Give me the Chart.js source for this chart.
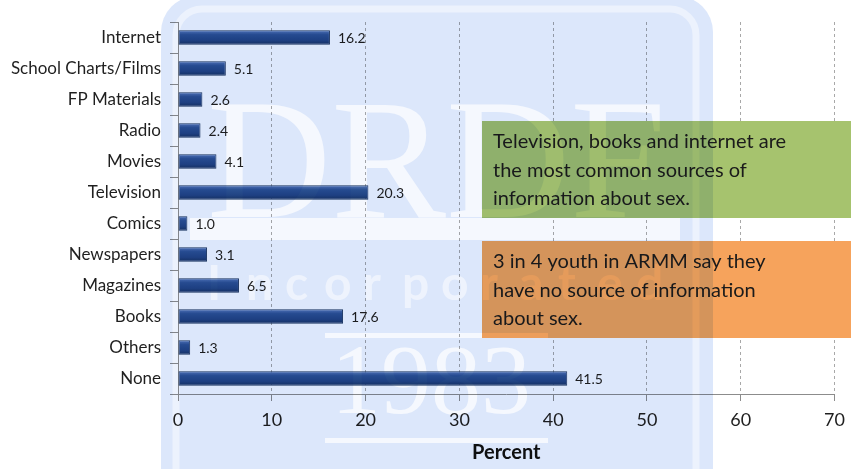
<!DOCTYPE html>
<html>
<head>
<meta charset="utf-8">
<script src="https://cdn.jsdelivr.net/npm/chart.js@4"></script>
<style>
  html, body { margin: 0; padding: 0; background: #fff; }
  #wrap { width: 853px; height: 469px; }
</style>
</head>
<body>
<div id="wrap"><canvas id="chart"></canvas></div>
<script>
const categories = ["Internet", "School Charts/Films", "FP Materials", "Radio", "Movies", "Television",
  "Comics", "Newspapers", "Magazines", "Books", "Others", "None"];
const percent = [16.2, 5.1, 2.6, 2.4, 4.1, 20.3, 1.0, 3.1, 6.5, 17.6, 1.3, 41.5];
const xTicks = [0, 10, 20, 30, 40, 50, 60, 70];
const greenNote = ["Television, books and internet are", "the most common sources of", "information about sex."];
const orangeNote = ["3 in 4 youth in ARMM say they", "have no source of information", "about sex."];

const FONT = "Lato";

// bar fill: vertical gradient per bar, gives the bevel look
function barFill(c) {
  const chart = c.chart;
  if (!chart.chartArea) return "#264b88";
  const y = chart.scales.y.getPixelForValue(c.dataIndex);
  const g = chart.ctx.createLinearGradient(0, y - 7, 0, y + 7);
  g.addColorStop(0, "#587bb9");
  g.addColorStop(0.3, "#2b5292");
  g.addColorStop(0.7, "#224684");
  g.addColorStop(1, "#183463");
  return g;
}

// value labels at bar ends
const valueLabels = {
  id: "valueLabels",
  afterDatasetsDraw(chart) {
    const ctx = chart.ctx;
    const meta = chart.getDatasetMeta(0);
    ctx.save();
    ctx.font = "14px " + FONT;
    ctx.fillStyle = "#1f1f1f";
    ctx.textAlign = "left";
    ctx.textBaseline = "middle";
    meta.data.forEach((bar, i) => {
      ctx.fillText(percent[i].toFixed(1), bar.x + 8, bar.y + 1);
    });
    ctx.restore();
  }
};

function drawNote(ctx, lines, x, y, w, h, color) {
  ctx.fillStyle = color;
  ctx.fillRect(x, y, w, h);
  ctx.fillStyle = "#1b1b1b";
  ctx.font = "20px " + FONT;
  ctx.textAlign = "left";
  ctx.textBaseline = "middle";
  lines.forEach((t, i) => ctx.fillText(t, x + 11, y + 21 + i * 28.5));
}

function roundRect(c, x, y, w, h, r) {
  c.beginPath();
  c.moveTo(x + r, y);
  c.arcTo(x + w, y, x + w, y + h, r);
  c.arcTo(x + w, y + h, x, y + h, r);
  c.arcTo(x, y + h, x, y, r);
  c.arcTo(x, y, x + w, y, r);
  c.closePath();
}

// notes + DRDF watermark laid over the whole slide
const overlay = {
  id: "overlay",
  beforeDraw(chart) {
    const ctx = chart.ctx;
    ctx.save();
    ctx.fillStyle = "#fff";
    ctx.fillRect(0, 0, chart.width, chart.height);
    ctx.restore();
  },
  afterDraw(chart) {
    const ctx = chart.ctx;
    ctx.save();
    drawNote(ctx, greenNote, 482, 121, 369, 97, "#a6c36e");
    drawNote(ctx, orangeNote, 482, 241, 369, 97, "#f6a35c");

    const off = document.createElement("canvas");
    off.width = chart.width;
    off.height = chart.height;
    const o = off.getContext("2d");
    o.fillStyle = "#fff";
    o.fillRect(0, 0, off.width, off.height);
    o.fillStyle = "#dce7fb";
    roundRect(o, 161, -4, 552, 520, 36);
    o.fill();
    o.strokeStyle = "rgba(255,255,255,0.45)";
    o.lineWidth = 7;
    roundRect(o, 176, 9, 520, 500, 26);
    o.stroke();
    o.fillStyle = "rgba(255,255,255,0.7)";
    o.fillRect(190, 218, 490, 22);
    o.fillRect(325, 333, 223, 5);
    o.fillRect(325, 438, 223, 5);
    o.font = "172px 'Liberation Serif'";
    o.textBaseline = "alphabetic";
    o.textAlign = "left";
    o.fillText("DRDF", 207, 217);
    o.font = "100px 'Liberation Serif'";
    o.textAlign = "center";
    o.fillText("1983", 431, 413);
    o.fillStyle = "rgba(255,255,255,0.5)";
    o.font = "bold 48px " + FONT;
    o.textAlign = "left";
    const word = "Incorporated";
    for (let i = 0; i < word.length; i++) o.fillText(word[i], 207 + i * 39, 300);

    ctx.globalCompositeOperation = "multiply";
    ctx.drawImage(off, 0, 0, chart.width, chart.height);
    ctx.restore();
  }
};

new Chart(document.getElementById("chart"), {
  type: "bar",
  data: {
    labels: categories,
    datasets: [{
      data: percent,
      backgroundColor: barFill,
      borderColor: "#1a3560",
      borderWidth: 1,
      borderSkipped: false,
      barPercentage: 0.47,
      categoryPercentage: 1
    }]
  },
  options: {
    indexAxis: "y",
    responsive: true,
    maintainAspectRatio: false,
    animation: false,
    layout: { padding: { top: 22, right: 14, bottom: 0, left: 0 } },
    plugins: { legend: { display: false }, tooltip: { enabled: false } },
    scales: {
      x: {
        min: 0,
        max: 70,
        afterBuildTicks: s => { s.ticks = xTicks.map(v => ({ value: v })); },
        afterFit: s => { s.height = 75; },
        grid: {
          color: "#a8a8a8",
          tickBorderDash: [],
          tickColor: "#8c8c8c",
          tickLength: 7
        },
        border: { color: "#8c8c8c", dash: [3, 3] },
        ticks: { color: "#1f1f1f", font: { family: FONT, size: 18 }, padding: 8 },
        title: {
          display: true,
          text: "Percent",
          color: "#111",
          font: { family: FONT, size: 20, weight: "bold" },
          padding: { top: 0, bottom: 4 }
        }
      },
      y: {
        afterFit: s => { s.width = 178; },
        grid: {
          drawOnChartArea: false,
          offset: true,
          tickColor: "#8c8c8c",
          tickLength: 8
        },
        border: { color: "#8c8c8c" },
        ticks: { color: "#1f1f1f", font: { family: FONT, size: 17 }, padding: 9 }
      }
    }
  },
  plugins: [valueLabels, overlay]
});
</script>
</body>
</html>
